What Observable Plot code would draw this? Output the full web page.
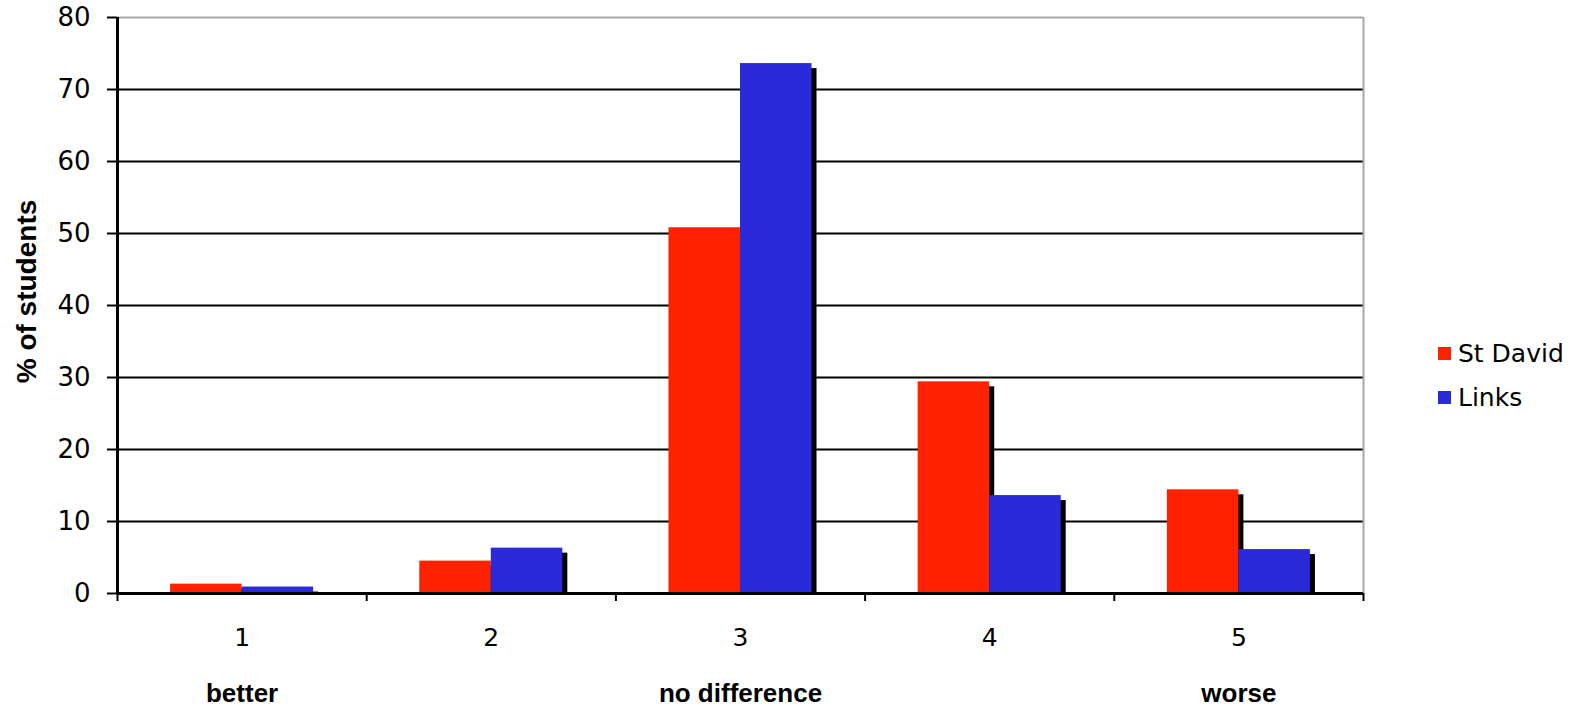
<!DOCTYPE html>
<html>
<head>
<meta charset="utf-8">
<script src="https://cdn.jsdelivr.net/npm/d3@7"></script>
<script src="https://cdn.jsdelivr.net/npm/@observablehq/plot@0.6"></script>
<style>
  html, body { margin: 0; padding: 0; background: white; }
  #wrap { position: relative; width: 1575px; height: 710px; }
  #legend { position: absolute; left: 1438px; top: 331px; font-family: "DejaVu Sans"; font-size: 25px; color: black; }
  .item { display: flex; align-items: center; height: 44px; }
  .sw { width: 13px; height: 13px; margin-right: 7px; }
</style>
</head>
<body>
<div id="wrap"><div id="legend"></div></div>
<script>
const categories = [1, 2, 3, 4, 5];
const categoryLabels = ["1", "2", "3", "4", "5"];
const stDavid = [1.3, 4.5, 50.8, 29.4, 14.4];
const links = [0.9, 6.3, 73.6, 13.6, 6.1];
const seriesNames = ["St David", "Links"];
const seriesColors = ["#ff2200", "#2a2ad8"];
const yTicks = [0, 10, 20, 30, 40, 50, 60, 70, 80];
const descCats = [1, 3, 5];
const descLabels = ["better", "no difference", "worse"];
const yLabel = "% of students";

const barHalf = 0.287;
const seriesValues = [stDavid, links];
const rows = [];
categories.forEach((c, i) => {
  seriesNames.forEach((s, j) => {
    rows.push({cat: c, series: s, value: seriesValues[j][i], j});
  });
});
const x1 = d => d.j === 0 ? d.cat - barHalf : d.cat;
const x2 = d => d.j === 0 ? d.cat : d.cat + barHalf;
const boundaries = [0.5, ...categories.map(c => c + 0.5)];
const xDomain = [boundaries[0], boundaries[boundaries.length - 1]];
const yDomain = [yTicks[0], yTicks[yTicks.length - 1]];

const chart = Plot.plot({
  width: 1575,
  height: 710,
  marginLeft: 117,
  marginRight: 212,
  marginTop: 17,
  marginBottom: 117,
  x: {domain: xDomain},
  y: {domain: yDomain},
  color: {domain: seriesNames, range: seriesColors},
  style: {fontFamily: "DejaVu Sans", fontSize: "25px", color: "black", background: "white"},
  marks: [
    Plot.ruleY(yTicks.filter(t => t > yDomain[0] && t < yDomain[1]), {stroke: "black", strokeWidth: 2}),
    Plot.ruleY([yDomain[1]], {stroke: "#a8a8a8", strokeWidth: 2}),
    Plot.ruleX([xDomain[1]], {stroke: "#a8a8a8", strokeWidth: 2}),
    Plot.rect(rows, {x1, x2, y1: 0, y2: "value", fill: "black", dx: 5, insetTop: 5}),
    Plot.rect(rows, {x1, x2, y1: 0, y2: "value", fill: "series"}),
    Plot.ruleX([xDomain[0]], {stroke: "black", strokeWidth: 3}),
    Plot.ruleY([yDomain[0]], {stroke: "black", strokeWidth: 3}),
    Plot.axisY({ticks: yTicks, tickSize: 10, tickPadding: 17, strokeWidth: 2, label: null, fontSize: 26}),
    Plot.axisX({ticks: boundaries, tickSize: 8, strokeWidth: 2, text: null, label: null}),
    Plot.axisX({ticks: categories, tickFormat: d => categoryLabels[categories.indexOf(d)], tickSize: 0, tickPadding: 35, label: null, fontSize: 25}),
    Plot.text(descLabels, {x: descCats, frameAnchor: "bottom", dy: 108, fontFamily: "Liberation Sans", fontWeight: "bold", fontSize: 26, fill: "black"}),
    Plot.text([yLabel], {frameAnchor: "left", textAnchor: "middle", rotate: -90, dx: -90, dy: -14, fontFamily: "Liberation Sans", fontWeight: "bold", fontSize: 28, fill: "black"})
  ]
});
document.getElementById("wrap").prepend(chart);

const legend = document.getElementById("legend");
seriesNames.forEach((s, i) => {
  const item = document.createElement("div");
  item.className = "item";
  const sw = document.createElement("div");
  sw.className = "sw";
  sw.style.background = seriesColors[i];
  const t = document.createElement("span");
  t.textContent = s;
  item.append(sw, t);
  legend.append(item);
});
</script>
</body>
</html>
